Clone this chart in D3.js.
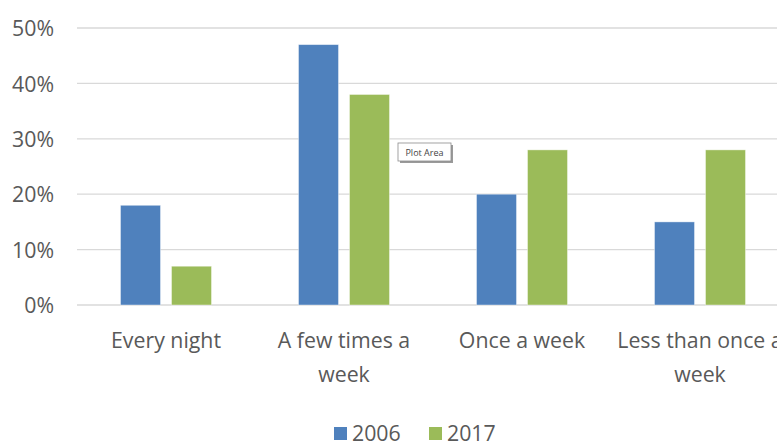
<!DOCTYPE html>
<meta charset="utf-8">
<html>
<head>
<style>
  body { margin: 0; background: #fff; overflow: hidden; }
  svg { display: block; }
  .tick text { fill: #595959; }
</style>
</head>
<body>
<div id="chart"></div>
<script src="https://d3js.org/d3.v7.min.js"></script>
<script>

  // chart data
  var categories = [["Every night"], ["A few times a", "week"], ["Once a week"], ["Less than once a", "week"]];
  var series = ["2006", "2017"];
  var values2006 = [0.18, 0.47, 0.20, 0.15];
  var values2017 = [0.07, 0.38, 0.28, 0.28];
  var yTicks = [0, 0.1, 0.2, 0.3, 0.4, 0.5];
  var colors = ["#4F81BD", "#9BBB59"];

  var W = 777, H = 441;
  var fontFam = "'Open Sans', 'Noto Sans', sans-serif";
  var fontSize = "21.3px";

  var svg = d3.select("#chart")
    .append("svg")
      .attr("width", W)
      .attr("height", H);

  var keys = categories.map(function(c, i) { return i; });

  // x scale runs past the right edge, like the cropped original
  var x0 = d3.scaleBand()
    .domain(keys)
    .range([77, 789])
    .padding(0);

  var x1 = d3.scaleBand()
    .domain(series)
    .range([(x0.bandwidth() - 91) / 2, (x0.bandwidth() + 91) / 2])
    .paddingInner(0.2157);

  var y = d3.scaleLinear()
    .domain([0, 0.5])
    .range([305, 28]);

  // gridlines
  svg.append("g")
    .selectAll("line")
    .data(yTicks)
    .enter().append("line")
      .attr("x1", 77)
      .attr("x2", W)
      .attr("y1", function(d) { return y(d); })
      .attr("y2", function(d) { return y(d); })
      .attr("stroke", "#D9D9D9")
      .attr("stroke-width", 1.3);

  // y axis labels
  var yAxis = svg.append("g")
    .attr("transform", "translate(54,0)")
    .call(d3.axisLeft(y).tickValues(yTicks).tickSize(0).tickPadding(0).tickFormat(d3.format(".0%")));
  yAxis.select(".domain").remove();
  yAxis.selectAll("text")
    .attr("dy", "0.36em")
    .style("font-family", fontFam)
    .style("font-size", fontSize);

  // bars
  var rows = keys.map(function(i) { return { key: i, vals: [values2006[i], values2017[i]] }; });

  var groups = svg.append("g")
    .selectAll("g")
    .data(rows)
    .enter().append("g")
      .attr("transform", function(d) { return "translate(" + x0(d.key) + ",0)"; });

  groups.selectAll("rect")
    .data(function(d) { return d.vals.map(function(v, j) { return { s: series[j], v: v, j: j }; }); })
    .enter().append("rect")
      .attr("x", function(d) { return x1(d.s); })
      .attr("y", function(d) { return y(d.v); })
      .attr("width", x1.bandwidth())
      .attr("height", function(d) { return y(0) - y(d.v); })
      .attr("fill", function(d) { return colors[d.j]; })
      .attr("stroke", "#ffffff")
      .attr("stroke-opacity", 0.5)
      .attr("stroke-width", 0.8);

  // category labels
  var xAxis = svg.append("g");
  categories.forEach(function(lines, i) {
    var t = xAxis.append("text")
      .attr("x", x0(i) + x0.bandwidth() / 2)
      .attr("y", 348)
      .attr("text-anchor", "middle")
      .attr("fill", "#595959")
      .style("font-family", fontFam)
      .style("font-size", fontSize);
    lines.forEach(function(l, k) {
      t.append("tspan")
        .attr("x", x0(i) + x0.bandwidth() / 2)
        .attr("dy", k === 0 ? 0 : 34)
        .text(l);
    });
  });

  // legend
  var legendX = [334, 429];
  series.forEach(function(s, i) {
    svg.append("rect")
      .attr("x", legendX[i])
      .attr("y", 427)
      .attr("width", 13)
      .attr("height", 13)
      .attr("fill", colors[i]);
    svg.append("text")
      .attr("x", legendX[i] + 18)
      .attr("y", 441)
      .attr("fill", "#595959")
      .style("font-family", fontFam)
      .style("font-size", fontSize)
      .text(s);
  });

  // "Plot Area" hover tip
  var tip = svg.append("g").attr("transform", "translate(398,143)");
  tip.append("rect")
    .attr("x", 2).attr("y", 2)
    .attr("width", 53).attr("height", 18)
    .attr("fill", "#9a9a9a");
  tip.append("rect")
    .attr("width", 53).attr("height", 18)
    .attr("fill", "#fff")
    .attr("stroke", "#8c8c8c")
    .attr("stroke-width", 0.8);
  tip.append("text")
    .attr("x", 26.5).attr("y", 13)
    .attr("text-anchor", "middle")
    .attr("fill", "#444")
    .style("font-family", fontFam)
    .style("font-size", "9px")
    .text("Plot Area");

</script>
</body>
</html>
